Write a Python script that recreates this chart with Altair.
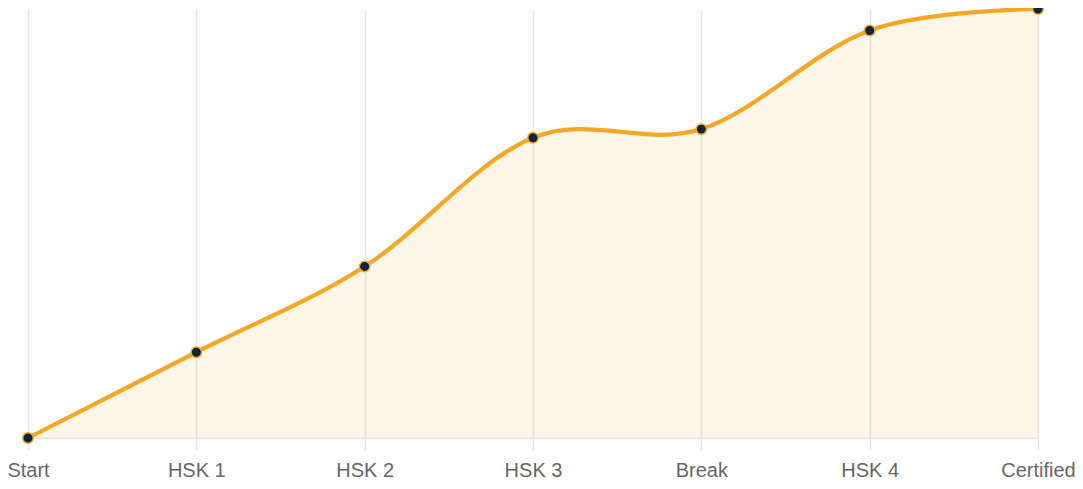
import altair as alt
import pandas as pd

stages = ["Start", "HSK 1", "HSK 2", "HSK 3", "Break", "HSK 4", "Certified"]
progress = [0, 20, 40, 70, 72, 95, 100]

df = pd.DataFrame({"stage": stages, "progress": progress})

x = alt.X("stage:N", sort=stages, title=None,
          scale=alt.Scale(type="point", padding=0),
          axis=alt.Axis(labelAngle=0, labelFontSize=20, labelColor="#666666",
                        labelFont="Liberation Sans", grid=True, gridColor="#e6e6e6",
                        gridWidth=1.5, domainColor="#e6e6e6", domainWidth=1.5,
                        tickColor="#e6e6e6", tickWidth=1.5, tickSize=12, labelPadding=10))
y = alt.Y("progress:Q", title=None, scale=alt.Scale(domain=[0, 100], nice=False),
          axis=None)

base = alt.Chart(df).encode(x=x, y=y)

area = base.mark_area(interpolate="cardinal", color="#F5A623", opacity=0.1)
line = base.mark_line(interpolate="cardinal", color="#F5A623", strokeWidth=4.2)
pts = base.mark_point(filled=True, fill="#0d2344", stroke="#F5A623", strokeWidth=1.5,
                      size=110, opacity=1)

chart = (area + line + pts).properties(
    width=1010, height=429,
    autosize=alt.AutoSizeParams(type="none"),
    padding={"left": 20, "top": 1, "right": 37, "bottom": 43},
).configure_view(stroke=None)

chart.save("out.html", embed_options={"renderer": "svg", "actions": False})
